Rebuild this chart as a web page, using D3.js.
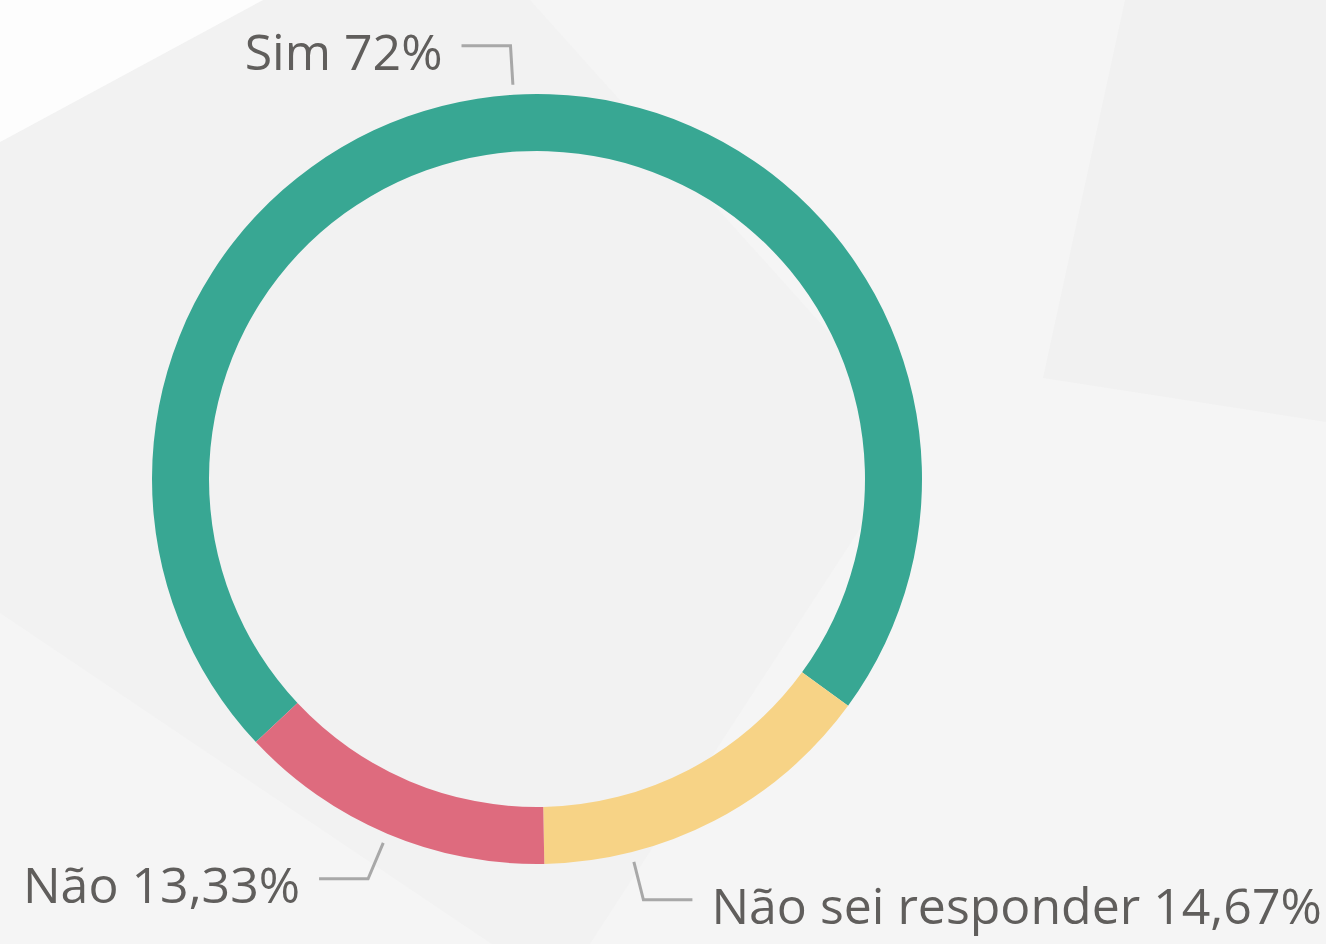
<!DOCTYPE html>
<html>
<head>
<meta charset="utf-8">
<script src="https://cdn.jsdelivr.net/npm/d3@7"></script>
<style>
  html, body { margin: 0; padding: 0; background: #f5f5f5; overflow: hidden; }
  .label { font-family: "Open Sans", "Noto Sans", sans-serif; font-size: 50px; fill: #605e5c; }
  .leader { fill: none; stroke: #a8a8a8; stroke-width: 3; }
</style>
</head>
<body>
<svg id="chart"></svg>
<script>
const width = 1326;
const height = 944;

// Data
const categories = ['Sim', 'Não sei responder', 'Não'];
const values = [72, 14.67, 13.33];
const valueLabels = ['72%', '14,67%', '13,33%'];
const colors = ['#38a793', '#f7d386', '#de6b7e'];

const svg = d3.select('#chart')
    .attr('width', width)
    .attr('height', height);

// Background decoration
const bg = svg.append('g').attr('class', 'background');
bg.append('rect').attr('width', width).attr('height', height).attr('fill', '#f5f5f5');
bg.append('polygon')
    .attr('points', '0,142 263,0 530,0 921,435 560,990 0,613')
    .attr('fill', '#f2f2f2');
bg.append('polygon')
    .attr('points', '0,0 263,0 0,142')
    .attr('fill', '#fdfdfd');
bg.append('polygon')
    .attr('points', '1125,0 1326,0 1326,422 1043,378')
    .attr('fill', '#f1f1f1');

// Donut
const cx = 537;
const cy = 479;
const outerR = 385;
const innerR = 328;
const startAngle = -133.1 * Math.PI / 180;

const pie = d3.pie()
    .sort(null)
    .value(d => d)
    .startAngle(startAngle)
    .endAngle(startAngle + 2 * Math.PI);

const arc = d3.arc().innerRadius(innerR).outerRadius(outerR);

const arcs = pie(values);
const g = svg.append('g').attr('transform', `translate(${cx},${cy})`);

g.selectAll('.slice')
    .data(arcs)
    .enter()
    .append('path')
    .attr('class', 'slice')
    .attr('d', arc)
    .attr('fill', (d, i) => colors[i]);

// Labels with leader lines
// label side: 1 = right of the elbow, -1 = left
const labelSide = [-1, 1, -1];
// Não sei label is pushed round towards the bottom to avoid the other label
const angleShift = [0, 13.3 * Math.PI / 180, 0];

const polar = (a, r) => [r * Math.sin(a), -r * Math.cos(a)];

arcs.forEach((d, i) => {
    const a = (d.startAngle + d.endAngle) / 2 + angleShift[i];
    const p0 = polar(a, outerR + 10);
    const p1 = polar(a, outerR + 49);
    const p2 = [p1[0] + labelSide[i] * 49, p1[1]];
    g.append('polyline')
        .attr('class', 'leader')
        .attr('points', [p0, p1, p2].map(p => p.join(',')).join(' '));
    g.append('text')
        .attr('class', 'label')
        .attr('x', p2[0] + labelSide[i] * 19)
        .attr('y', p2[1] + 24)
        .attr('text-anchor', labelSide[i] < 0 ? 'end' : 'start')
        .text(`${categories[i]} ${valueLabels[i]}`);
});
</script>
</body>
</html>
